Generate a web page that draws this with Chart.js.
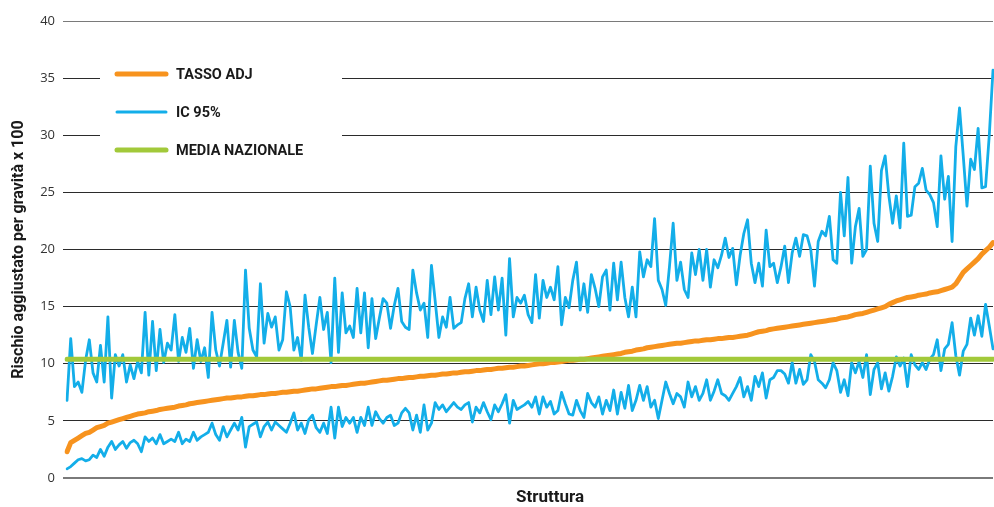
<!DOCTYPE html>
<html lang="it">
<head>
<meta charset="utf-8">
<title>Rischio aggiustato per gravità</title>
<script src="https://cdn.jsdelivr.net/npm/chart.js@4.4.1/dist/chart.umd.min.js"></script>
<style>
  html, body { margin: 0; padding: 0; background: #fff; }
  .chart-container { position: relative; width: 994px; height: 507px; }
</style>
</head>
<body>
<div class="chart-container"><canvas id="grafico"></canvas></div>
<script>
// valori, una struttura per punto
const tassoAdj = [
  2.3, 3.1, 3.3, 3.5, 3.7, 3.9, 4.0, 4.2, 4.4, 4.5, 4.6, 4.8, 4.9, 5.0, 5.1, 5.2, 5.3, 5.4, 5.5, 5.6, 5.65, 5.7, 5.8, 5.85, 5.9,
  6.0, 6.05, 6.1, 6.15, 6.2, 6.3, 6.35, 6.4, 6.5, 6.55, 6.6, 6.65, 6.7, 6.75, 6.8, 6.85, 6.9, 6.95, 7.0, 7.0, 7.05, 7.1, 7.1, 7.15, 7.2,
  7.2, 7.25, 7.3, 7.3, 7.35, 7.4, 7.4, 7.45, 7.5, 7.5, 7.55, 7.6, 7.6, 7.65, 7.7, 7.75, 7.8, 7.8, 7.85, 7.9, 7.95, 8.0, 8.0, 8.05, 8.1,
  8.1, 8.15, 8.2, 8.25, 8.3, 8.3, 8.35, 8.4, 8.45, 8.5, 8.55, 8.55, 8.6, 8.65, 8.7, 8.7, 8.75, 8.8, 8.8, 8.85, 8.9, 8.9, 8.95, 9.0, 9.0,
  9.05, 9.1, 9.1, 9.15, 9.2, 9.2, 9.25, 9.3, 9.3, 9.35, 9.4, 9.4, 9.45, 9.5, 9.5, 9.55, 9.6, 9.6, 9.65, 9.7, 9.7, 9.75, 9.8, 9.8, 9.85,
  9.9, 9.95, 10.0, 10.0, 10.05, 10.1, 10.1, 10.15, 10.2, 10.25, 10.3, 10.3, 10.35, 10.4, 10.4, 10.45, 10.5, 10.55, 10.6, 10.65, 10.7, 10.75, 10.8, 10.85, 10.9,
  11.0, 11.05, 11.1, 11.2, 11.25, 11.3, 11.4, 11.45, 11.5, 11.55, 11.6, 11.65, 11.7, 11.75, 11.8, 11.8, 11.85, 11.9, 11.95, 12.0, 12.0, 12.05, 12.1, 12.1, 12.15,
  12.2, 12.2, 12.25, 12.3, 12.3, 12.35, 12.4, 12.45, 12.5, 12.6, 12.7, 12.8, 12.85, 12.9, 13.0, 13.05, 13.1, 13.15, 13.2, 13.25, 13.3, 13.35, 13.4, 13.45, 13.5,
  13.55, 13.6, 13.65, 13.7, 13.75, 13.8, 13.85, 13.9, 14.0, 14.05, 14.1, 14.2, 14.3, 14.35, 14.4, 14.5, 14.6, 14.7, 14.8, 14.9, 15.0, 15.2, 15.35, 15.5, 15.6,
  15.7, 15.8, 15.85, 15.9, 16.0, 16.05, 16.1, 16.2, 16.25, 16.3, 16.4, 16.5, 16.6, 16.7, 17.0, 17.5, 18.0, 18.3, 18.6, 18.9, 19.2, 19.6, 19.9, 20.2, 20.6
];

const icSup = [
  6.8, 12.2, 8.0, 8.4, 7.5, 10.3, 12.1, 9.2, 8.4, 11.6, 8.4, 14.1, 7.0, 10.8, 9.8, 10.8, 8.4, 9.9, 8.7, 10.2, 9.2, 14.5, 9.0, 13.7, 9.4,
  13.0, 10.1, 11.8, 11.2, 14.3, 10.2, 12.3, 11.0, 13.1, 9.6, 12.1, 10.2, 11.4, 8.8, 14.5, 11.2, 9.8, 11.8, 13.8, 9.7, 13.8, 11.0, 9.6, 18.2, 13.1,
  11.2, 10.6, 17.0, 11.8, 14.4, 13.2, 14.1, 11.2, 12.1, 16.3, 15.0, 11.2, 12.3, 10.3, 16.0, 13.2, 10.9, 13.4, 15.8, 13.0, 14.5, 10.1, 17.5, 11.0, 16.2,
  12.7, 13.3, 12.3, 16.6, 12.7, 16.2, 11.4, 15.7, 12.2, 14.0, 15.7, 15.3, 13.1, 15.1, 16.6, 13.7, 13.2, 13.0, 18.2, 16.2, 14.7, 15.3, 12.3, 18.6, 15.5,
  12.3, 14.1, 13.2, 15.8, 13.1, 13.4, 13.6, 15.7, 17.0, 14.1, 16.7, 14.7, 13.7, 17.3, 14.3, 17.6, 14.7, 17.5, 12.5, 19.2, 14.1, 15.8, 15.3, 16.0, 14.3,
  13.6, 17.8, 14.0, 17.3, 15.8, 16.7, 15.6, 18.5, 13.4, 15.8, 14.9, 17.3, 18.9, 14.7, 17.0, 14.5, 17.8, 16.6, 15.0, 17.6, 18.2, 14.7, 18.8, 15.6, 18.9,
  15.8, 14.1, 16.7, 14.1, 19.8, 17.6, 19.1, 18.5, 22.7, 17.3, 16.5, 15.1, 18.5, 22.3, 17.3, 18.9, 16.5, 15.8, 19.7, 17.8, 20.0, 17.3, 20.0, 16.7, 19.1,
  18.4, 19.5, 21.0, 19.3, 20.1, 16.9, 19.5, 21.4, 22.6, 18.8, 17.1, 18.8, 16.8, 21.7, 18.5, 18.8, 17.1, 18.5, 20.3, 17.1, 19.7, 21.0, 19.4, 21.3, 21.2,
  20.0, 16.8, 20.7, 21.6, 21.2, 22.9, 19.1, 18.8, 25.0, 21.2, 26.3, 18.8, 22.0, 23.6, 19.4, 20.0, 27.3, 22.3, 20.7, 26.9, 28.2, 24.7, 22.3, 24.7, 21.9,
  29.3, 22.9, 23.0, 25.5, 25.8, 27.1, 25.2, 24.8, 24.1, 22.0, 28.2, 24.4, 26.4, 20.7, 29.0, 32.4, 28.2, 23.8, 27.9, 27.0, 30.6, 25.4, 25.5, 30.0, 35.7
];

const icInf = [
  0.8, 1.0, 1.3, 1.6, 1.7, 1.5, 1.6, 2.0, 1.8, 2.5, 1.9, 2.7, 3.2, 2.5, 2.9, 3.2, 2.6, 3.1, 3.3, 3.0, 2.3, 3.6, 3.2, 3.5, 3.0,
  3.8, 3.0, 3.2, 3.4, 3.2, 4.0, 3.0, 3.4, 3.2, 4.0, 3.3, 3.6, 3.8, 4.0, 4.8, 3.8, 3.3, 4.5, 3.6, 4.2, 4.8, 4.2, 5.3, 2.7, 4.5,
  4.7, 4.9, 3.6, 4.5, 4.9, 4.2, 4.9, 4.6, 4.3, 4.0, 4.8, 5.7, 4.2, 4.8, 3.9, 5.1, 5.5, 4.4, 4.0, 4.8, 3.9, 6.2, 3.5, 6.2, 4.5,
  5.3, 4.8, 5.3, 4.0, 5.3, 4.6, 6.2, 4.6, 5.8, 5.2, 4.8, 5.3, 5.5, 4.6, 4.8, 5.7, 6.1, 5.7, 4.2, 5.5, 4.0, 6.4, 4.2, 4.8, 6.6,
  6.0, 6.4, 5.8, 6.2, 6.6, 6.2, 6.0, 6.4, 6.6, 4.9, 6.2, 5.7, 6.6, 5.8, 5.1, 6.4, 5.8, 6.5, 7.3, 4.8, 6.8, 6.0, 6.2, 6.4, 6.7,
  6.2, 7.1, 5.6, 7.1, 6.2, 6.7, 5.6, 5.9, 7.5, 6.5, 5.6, 5.5, 6.8, 5.9, 5.3, 7.4, 6.6, 6.2, 7.1, 5.6, 6.8, 5.9, 7.7, 5.6, 7.5,
  6.1, 8.1, 5.9, 6.8, 8.1, 6.8, 8.0, 6.2, 6.8, 5.2, 6.8, 8.4, 7.4, 6.5, 7.4, 7.1, 6.2, 8.4, 7.1, 8.0, 6.8, 7.4, 8.6, 6.8, 7.6,
  8.6, 7.4, 7.2, 6.8, 7.4, 8.0, 8.8, 7.1, 8.0, 6.8, 8.9, 8.0, 9.2, 7.0, 8.6, 8.8, 9.4, 9.4, 9.1, 8.3, 10.1, 8.3, 9.5, 8.2, 8.6,
  10.8, 10.2, 8.6, 8.3, 7.9, 8.6, 10.1, 9.4, 7.5, 8.6, 7.2, 10.1, 9.2, 10.2, 8.8, 10.8, 7.3, 9.5, 10.1, 7.8, 9.2, 7.6, 8.9, 10.6, 9.8,
  10.5, 8.0, 10.8, 9.9, 9.5, 10.1, 9.5, 10.4, 10.8, 12.1, 9.4, 11.3, 11.7, 13.6, 10.7, 9.0, 11.1, 11.7, 14.0, 12.5, 14.2, 12.4, 15.2, 13.3, 11.3
];

const mediaNazionale = 10.4;
const yTicks = [0, 5, 10, 15, 20, 25, 30, 35, 40];
const strutture = tassoAdj.map((_, i) => 'Struttura ' + (i + 1));

const ARANCIO = '#f7931e';
const AZZURRO = '#13aee9';
const VERDE = '#a2c93a';

// voci della legenda (IC 95% compare una sola volta)
const voci = [
  { testo: 'TASSO ADJ', colore: ARANCIO, spessore: 5 },
  { testo: 'IC 95%', colore: AZZURRO, spessore: 3 },
  { testo: 'MEDIA NAZIONALE', colore: VERDE, spessore: 5 }
];

const legendaBox = {
  id: 'legendaBox',
  beforeDatasetsDraw(chart) {
    const ctx = chart.ctx;
    ctx.save();
    ctx.fillStyle = '#ffffff';
    ctx.fillRect(100, 57, 242, 113);
    voci.forEach((v, i) => {
      const y = 74 + i * 38;
      ctx.strokeStyle = v.colore;
      ctx.lineWidth = v.spessore;
      ctx.lineCap = 'round';
      ctx.beginPath();
      ctx.moveTo(117, y);
      ctx.lineTo(166, y);
      ctx.stroke();
      ctx.fillStyle = '#1a1a1a';
      ctx.font = 'bold 14.5px Roboto';
      ctx.textBaseline = 'middle';
      ctx.fillText(v.testo, 176, y + 1);
    });
    ctx.restore();
  },
  afterDraw(chart) {
    // titolo asse x, un po' a destra del centro come nell'originale
    const ctx = chart.ctx;
    ctx.save();
    ctx.fillStyle = '#1a1a1a';
    ctx.font = 'bold 17px Roboto';
    ctx.textAlign = 'center';
    ctx.textBaseline = 'middle';
    ctx.fillText('Struttura', 550, 498);
    ctx.restore();
  }
};

const ctx = document.getElementById('grafico').getContext('2d');
new Chart(ctx, {
  type: 'line',
  data: {
    labels: strutture,
    datasets: [
      {
        label: 'MEDIA NAZIONALE',
        data: strutture.map(() => mediaNazionale),
        borderColor: VERDE,
        borderWidth: 5
      },
      {
        label: 'TASSO ADJ',
        data: tassoAdj,
        borderColor: ARANCIO,
        borderWidth: 5
      },
      {
        label: 'IC 95%',
        data: icSup,
        borderColor: AZZURRO,
        borderWidth: 2.8
      },
      {
        label: 'IC 95% inf',
        data: icInf,
        borderColor: AZZURRO,
        borderWidth: 2.8
      }
    ]
  },
  options: {
    responsive: true,
    maintainAspectRatio: false,
    animation: false,
    layout: { padding: { top: 21, right: 1, bottom: 0, left: 0 } },
    elements: {
      point: { radius: 0 },
      line: { tension: 0, fill: false, borderJoinStyle: 'round', borderCapStyle: 'round' }
    },
    plugins: {
      legend: { display: false },
      tooltip: { enabled: false }
    },
    scales: {
      x: {
        grid: { display: false },
        border: { display: false },
        ticks: { display: false },
        afterFit(scale) { scale.height = 29; }
      },
      y: {
        min: 0,
        max: 40,
        afterBuildTicks(scale) { scale.ticks = yTicks.map(v => ({ value: v })); },
        ticks: {
          padding: 8,
          color: '#333',
          font: { family: 'Open Sans', size: 13 }
        },
        grid: {
          color: c => (c.tick && (c.tick.value === 0 || c.tick.value === 40)) ? '#7a7a7a' : '#2b2b2b',
          lineWidth: c => (c.tick && c.tick.value === 0) ? 2 : 1,
          tickLength: 4,
          tickColor: c => (c.tick && (c.tick.value === 0 || c.tick.value === 40)) ? '#7a7a7a' : '#2b2b2b'
        },
        border: { display: false },
        title: {
          display: true,
          text: 'Rischio aggiustato per gravità x 100',
          color: '#1a1a1a',
          font: { family: 'Roboto', size: 16, weight: 'bold' },
          padding: { top: 9, bottom: 0 }
        },
        afterFit(scale) { scale.width = 67; }
      }
    }
  },
  plugins: [legendaBox]
});
</script>
</body>
</html>
